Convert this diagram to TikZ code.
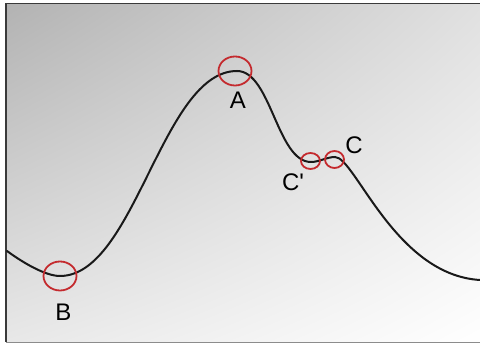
\documentclass[tikz,border=0pt]{standalone}
\usepackage{fontspec}
\setmainfont{Liberation Sans}
\usetikzlibrary{shadings}
\definecolor{ringred}{HTML}{C42A2E}
\definecolor{framegray}{HTML}{3A3A3A}
\tikzset{
	ring/.style={draw=ringred,line width=1.8pt},
	lbl/.style={inner sep=0pt,font=\fontsize{24}{28}\selectfont},
	curve/.style={line width=2pt,black!90,line cap=round}
}

\begin{document}
\begin{tikzpicture}[x=1pt,y=1pt]
			\useasboundingbox (0,0) rectangle (480,345);
			\clip (0,0) rectangle (480,345);
			% background
			\shade[upper left=black!30,upper right=black!12,lower left=black!9,lower right=white] (6,2.5) rectangle (484,341.5);
			\draw[framegray,line width=1.5pt] (484,341.5) -- (6,341.5) -- (6,2.5);
			\draw[black!45,line width=1.5pt] (6,2.5) -- (484,2.5);
			% points
			\coordinate (start) at (7,94);
			\coordinate (B) at (60,69);
			\coordinate (A) at (237,274);
			\coordinate (Cp) at (311,183);
			\coordinate (C) at (335,188);
			\coordinate (end) at (480,65);
			% energy curve
			\draw[curve] (start) .. controls (22,83) and (45,69) .. (B)
				.. controls (135,69) and (162,274) .. (A)
				.. controls (271,274) and (277,183) .. (Cp)
				.. controls (319,183) and (327,188) .. (C)
				.. controls (355,188) and (395,70) .. (end);
			% rings
			\draw[ring] (B) ellipse (16.5 and 14.5);
			\draw[ring] (235,274) ellipse (16.5 and 14.5);
			\draw[ring] (310.5,184) ellipse (9.5 and 8);
			\draw[ring] (334.5,185.5) ellipse (9.5 and 8.5);
			% labels
			\node[lbl] (lblB) at (63.5,33) {B};
			\node[lbl] (lblA) at (238,245) {A};
			\node[lbl] (lblCp) at (293,163) {C\textquotesingle};
			\node[lbl] (lblC) at (354,199.5) {C};
		\end{tikzpicture}
\end{document}
